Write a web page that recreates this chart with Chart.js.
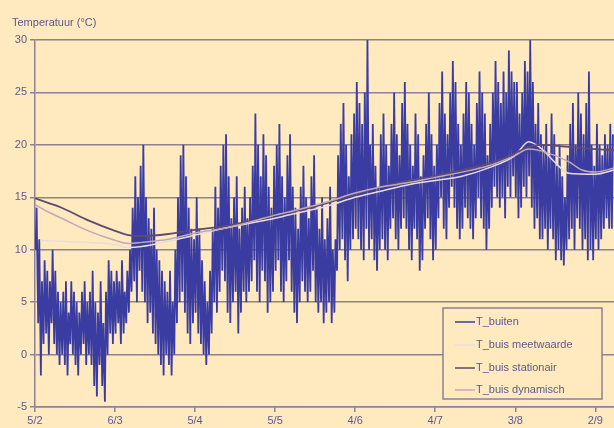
<!DOCTYPE html>
<html>
<head>
    <title>Temperatuur buiten en buis</title>
    <script src="https://cdn.jsdelivr.net/npm/chart.js"></script>
    <style>
        body { margin: 0; background: #FFE9BF; }
    </style>
</head>
<body>

<canvas id="tempChart" width="614" height="428"></canvas>

<script>
// x axis: days since 5/2, one tick every 30 days
const xTickDays = [0, 30, 60, 90, 120, 150, 180, 210];
const xLabels = ['5/2', '6/3', '5/4', '5/5', '4/6', '4/7', '3/8', '2/9'];

// T_buiten: daily low and high
const buitenLow = [
    10, 3, -2, 1, 2, 0, 3, 1, 0, -1,
    0, -1, -2, 1, 0, -1, -2, 0, 1, -1,
    0, -1, -3, -4, -1, -3, -4.5, 0, 2, 1,
    2, 3, 1, 2, 3, 4, 6, 7, 5, 8,
    6, 5, 3, 4, 2, 1, 0, -1, -2, 0,
    -1, -2, 0, 3, 5, 6, 4, 2, 1, 3,
    4, 2, 1, 0, -1, 0, 2, 5, 4, 6,
    8, 7, 4, 3, 5, 6, 2, 4, 6, 5,
    6, 7, 9, 6, 5, 8, 7, 4, 5, 6,
    8, 9, 6, 5, 7, 9, 6, 4, 3, 5,
    7, 6, 5, 6, 8, 5, 4, 5, 3, 4,
    5, 3, 4, 8, 10, 11, 9, 7, 10, 11,
    12, 11, 10, 9, 12, 10, 11, 9, 8, 10,
    11, 10, 9, 12, 13, 11, 10, 12, 13, 12,
    10, 9, 12, 11, 8, 9, 12, 13, 11, 9,
    10, 13, 15, 12, 11, 14, 16, 14, 12, 11,
    12, 14, 13, 12, 11, 13, 15, 13, 12, 10,
    12, 14, 16, 15, 14, 15, 13, 16, 15, 17,
    15, 13, 14, 16, 15, 17, 14, 12, 13, 11,
    11, 12, 10, 12, 11, 9, 10, 9, 8.5, 10,
    11, 12, 10, 13, 12, 10, 11, 9, 10, 9, 11, 10, 11, 12, 13, 12, 12
];
const buitenHigh = [
    14, 11, 7, 9, 8, 7, 10, 8, 6, 5,
    6, 7, 4, 7, 6, 5, 4, 6, 7, 5,
    6, 8, 5, 4, 7, 3, 6, 9, 8, 7,
    8, 7, 9, 6, 8, 10, 14, 17, 15, 18,
    20, 15, 13, 12, 14, 10, 9, 8, 7, 6,
    8, 5, 10, 15, 19, 20, 17, 14, 12, 11,
    15, 12, 9, 7, 5, 8, 12, 16, 14, 18,
    20, 21, 17, 13, 15, 17, 12, 14, 16, 13,
    15, 18, 23, 20, 17, 21, 19, 16, 14, 18,
    20, 22, 17, 15, 19, 21, 16, 14, 12, 16,
    18, 15, 13, 17, 19, 14, 12, 15, 11, 13,
    16, 10, 11, 19, 22, 24, 20, 17, 21, 23,
    26, 24, 22, 25, 30, 20, 22, 18, 16, 21,
    23, 20, 18, 22, 25, 21, 19, 24, 26, 22,
    20, 18, 23, 21, 17, 19, 22, 25, 21, 18,
    20, 24, 27, 23, 21, 25, 28, 26, 22, 20,
    23, 26, 25, 22, 20, 24, 27, 25, 23, 19,
    22, 25, 28, 26, 24, 27, 25, 29, 27, 26,
    26, 23, 25, 28, 27, 30, 26, 22, 24, 21,
    20, 22, 19, 23, 21, 18, 20, 17, 15, 19,
    22, 24, 20, 25, 23, 21, 24, 27, 20, 18, 22, 20, 19, 21, 20, 22, 21
];

// T_buis meetwaarde
const meetDays = [2, 10, 20, 30, 35, 40, 50, 60, 70, 80, 90, 100, 110, 120, 130, 140, 150, 160, 170, 180, 185, 190, 195, 200, 210, 217];
const meetVals = [10.9, 10.8, 10.7, 10.5, 10.2, 10.3, 10.8, 11.4, 12.0, 12.5, 13.0, 13.6, 14.2, 15.0, 15.6, 16.2, 16.6, 17.0, 17.8, 19.0, 20.3, 19.6, 18.3, 17.3, 17.2, 17.6];

// T_buis stationair
const statDays = [0, 10, 20, 30, 35, 40, 50, 60, 70, 80, 90, 100, 110, 120, 130, 140, 150, 160, 170, 180, 185, 190, 200, 210, 217];
const statVals = [14.9, 14.0, 12.8, 11.8, 11.4, 11.3, 11.5, 11.9, 12.2, 12.7, 13.3, 13.8, 14.5, 15.3, 16.0, 16.6, 17.0, 17.6, 18.2, 19.2, 19.8, 20.0, 19.8, 19.6, 19.5];

// T_buis dynamisch
const dynDays = [0, 5, 10, 20, 30, 35, 40, 50, 60, 70, 80, 90, 100, 110, 120, 130, 140, 150, 160, 170, 180, 185, 190, 200, 205, 210, 217];
const dynVals = [14.3, 13.6, 13.0, 11.8, 10.9, 10.6, 10.7, 11.0, 11.6, 12.0, 12.6, 13.3, 13.9, 14.6, 15.4, 16.0, 16.4, 16.9, 17.4, 18.0, 19.0, 19.6, 19.4, 18.4, 17.6, 17.4, 17.8];

const BG = '#FFE9BF';
const TEXT = '#5E5890';
const GRID = '#8F8094';

function buitenPoints() {
    const pts = [];
    for (let d = 0; d < buitenLow.length; d++) {
        pts.push({ x: d + 0.2, y: buitenLow[d] });
        pts.push({ x: d + 0.6, y: buitenHigh[d] });
    }
    return pts;
}
function toPoints(days, vals) {
    return days.map((d, i) => ({ x: d, y: vals[i] }));
}

const bgPlugin = {
    id: 'bg',
    beforeDraw(chart) {
        const ctx = chart.ctx;
        ctx.save();
        ctx.fillStyle = BG;
        ctx.fillRect(0, 0, chart.width, chart.height);
        ctx.restore();
    }
};

// axis title and legend box in the lower right corner
const boxPlugin = {
    id: 'box',
    afterDatasetsDraw(chart) {
        const ctx = chart.ctx;
        ctx.save();
        ctx.font = '11px "Liberation Sans", Arial, sans-serif';
        ctx.fillStyle = TEXT;
        ctx.textBaseline = 'middle';
        ctx.fillText('Temperatuur (°C)', 12, 23);

        const x0 = 443, y0 = 308, w = 159, h = 91;
        ctx.fillStyle = BG;
        ctx.fillRect(x0, y0, w, h);
        ctx.strokeStyle = GRID;
        ctx.lineWidth = 1.5;
        ctx.strokeRect(x0, y0, w, h);

        const rows = [322, 345, 368, 390];
        chart.data.datasets.forEach((ds, i) => {
            const y = rows[i];
            ctx.strokeStyle = ds.borderColor;
            ctx.lineWidth = 1.5;
            ctx.beginPath();
            ctx.moveTo(455, y);
            ctx.lineTo(475, y);
            ctx.stroke();
            ctx.fillStyle = TEXT;
            ctx.fillText(ds.label, 476, y);
        });
        ctx.restore();
    }
};

document.addEventListener("DOMContentLoaded", function() {
    const ctx = document.getElementById('tempChart').getContext('2d');

    new Chart(ctx, {
        type: 'line',
        data: {
            datasets: [{
                label: 'T_buiten',
                data: buitenPoints(),
                borderColor: '#3A3CA2',
                borderWidth: 1.8,
                pointRadius: 0,
                tension: 0,
                order: 4
            }, {
                label: 'T_buis meetwaarde',
                data: toPoints(meetDays, meetVals),
                borderColor: '#EBDCDC',
                borderWidth: 1.5,
                pointRadius: 0,
                cubicInterpolationMode: 'monotone',
                order: 3
            }, {
                label: 'T_buis stationair',
                data: toPoints(statDays, statVals),
                borderColor: '#5F4A70',
                borderWidth: 1.8,
                pointRadius: 0,
                cubicInterpolationMode: 'monotone',
                order: 2
            }, {
                label: 'T_buis dynamisch',
                data: toPoints(dynDays, dynVals),
                borderColor: '#BFA9B8',
                borderWidth: 1.5,
                pointRadius: 0,
                cubicInterpolationMode: 'monotone',
                order: 1
            }]
        },
        options: {
            responsive: false,
            animation: false,
            layout: { padding: { top: 40, left: 0, right: 0, bottom: 0 } },
            scales: {
                x: {
                    type: 'linear',
                    min: 0,
                    max: 217,
                    afterBuildTicks: s => { s.ticks = xTickDays.map(v => ({ value: v })); },
                    afterFit: s => { s.height = 21; },
                    ticks: {
                        callback: v => xLabels[xTickDays.indexOf(v)],
                        autoSkip: false,
                        maxRotation: 0,
                        padding: 2,
                        color: TEXT,
                        font: { family: '"Liberation Sans", Arial, sans-serif', size: 11 }
                    },
                    grid: { drawOnChartArea: false, tickLength: 5, color: GRID, lineWidth: 1.5 },
                    border: { color: GRID, width: 1.5 }
                },
                y: {
                    min: -5,
                    max: 30,
                    afterFit: s => { s.width = 35; },
                    ticks: {
                        stepSize: 5,
                        padding: 3,
                        color: TEXT,
                        font: { family: '"Liberation Sans", Arial, sans-serif', size: 11 }
                    },
                    grid: { color: GRID, lineWidth: 1.5, tickLength: 5 },
                    border: { color: GRID, width: 1.5 }
                }
            },
            plugins: {
                legend: { display: false },
                tooltip: { enabled: false }
            }
        },
        plugins: [bgPlugin, boxPlugin]
    });
});
</script>

</body>
</html>
